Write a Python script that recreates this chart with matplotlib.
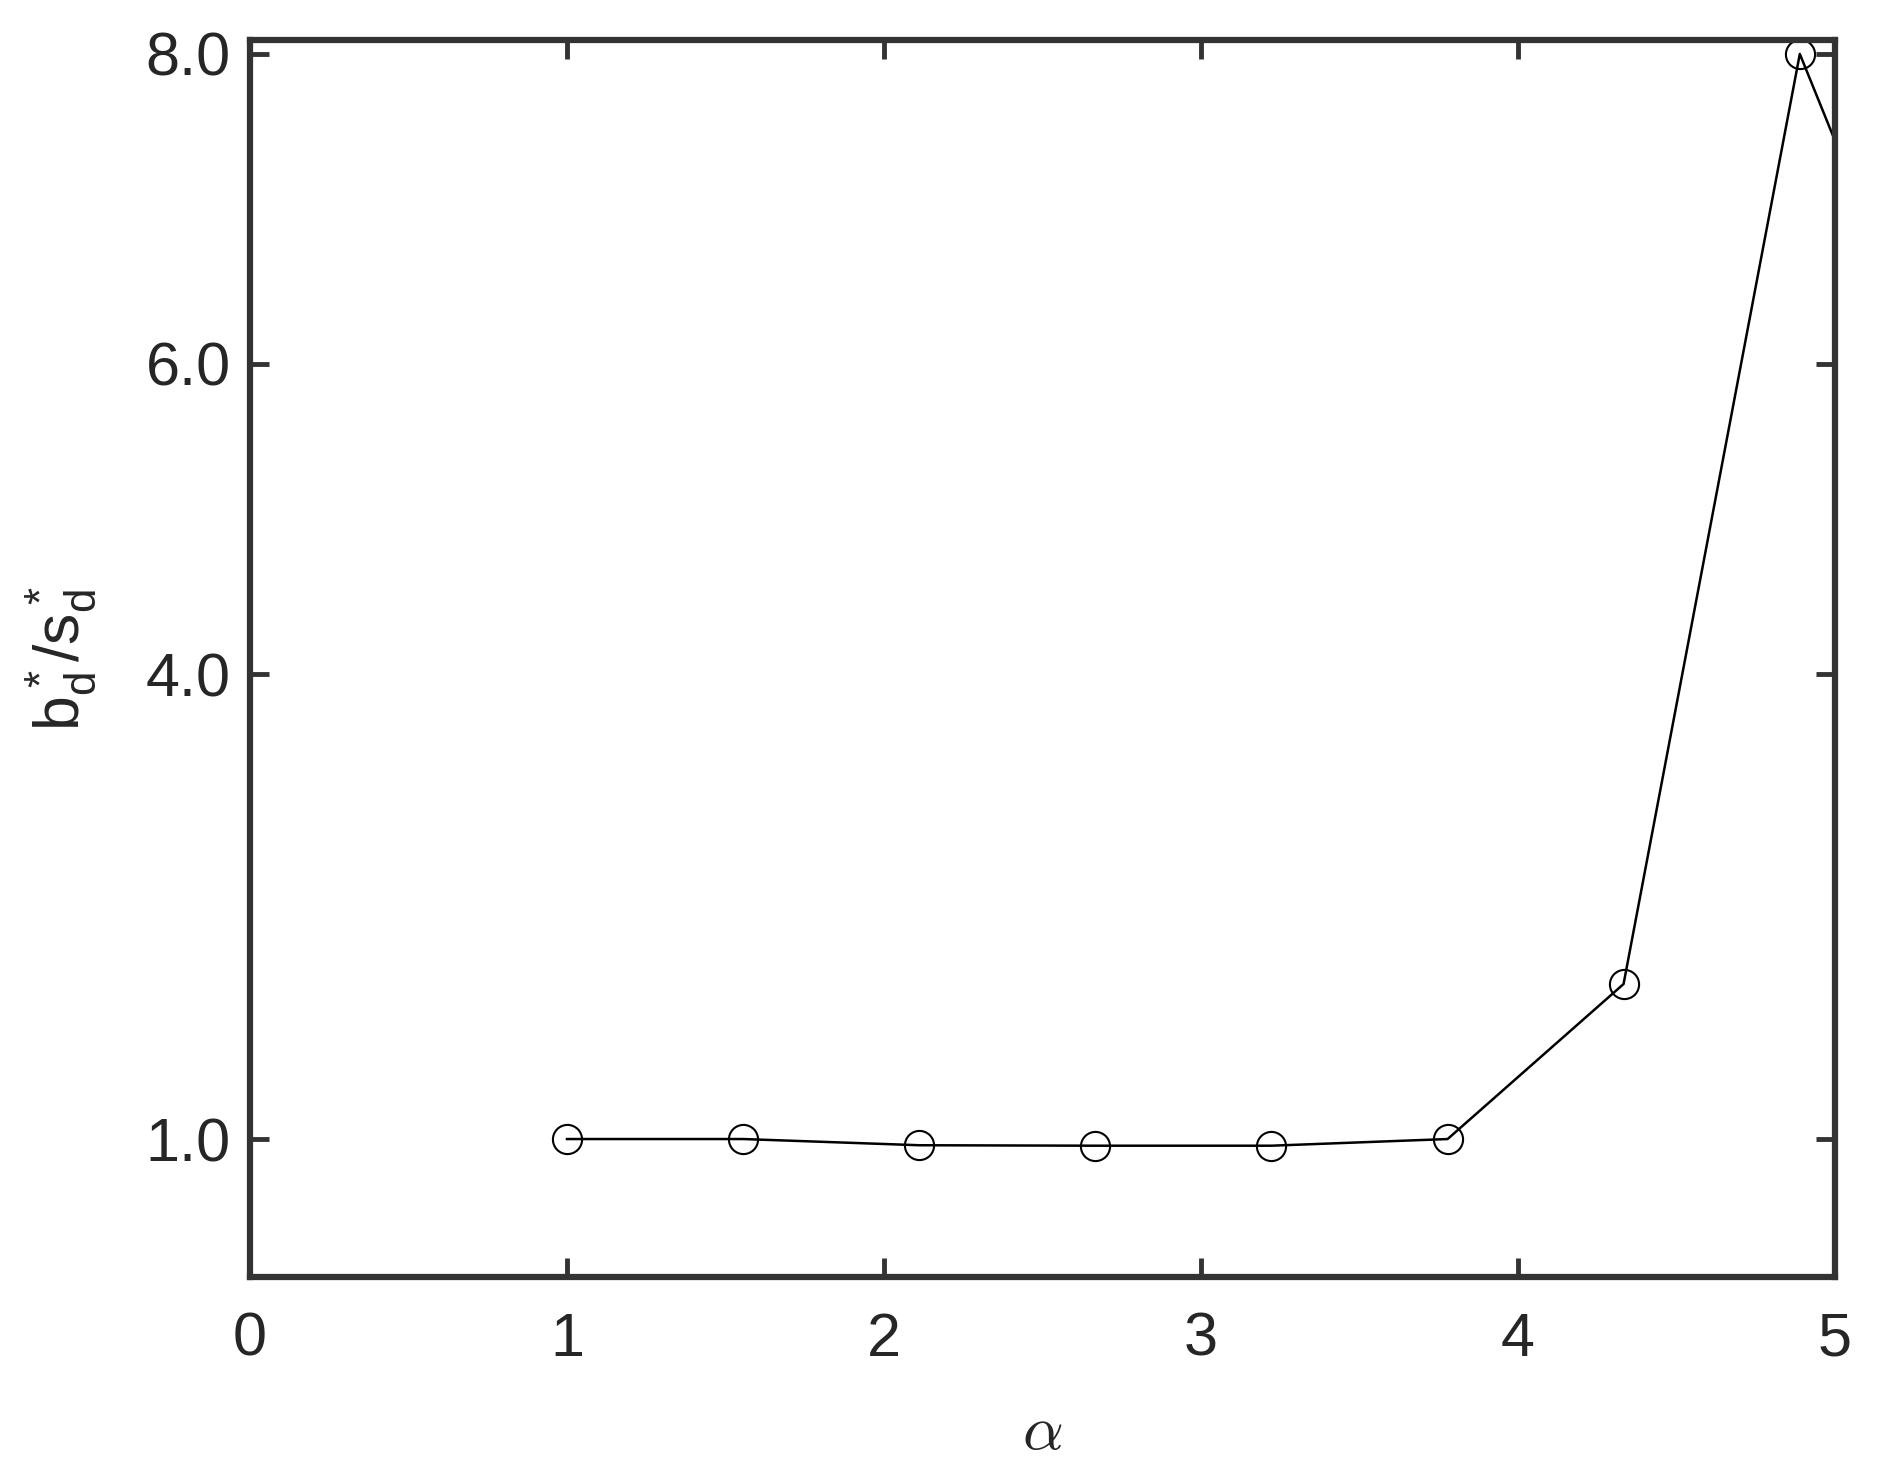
import matplotlib
matplotlib.use("Agg")
import matplotlib.pyplot as plt

# Data
alpha_vals = [1.0, 1.556, 2.111, 2.667, 3.222, 3.778, 4.333, 4.889, 5.444]
ratio_vals = [1.0, 1.0, 0.96, 0.957, 0.957, 1.0, 2.0, 8.0, 5.2]
x_ticks = [0, 1, 2, 3, 4, 5]
y_ticks = [1.0, 4.0, 6.0, 8.0]
y_ticklabels = ["1.0", "4.0", "6.0", "8.0"]

plt.rcParams['font.family'] = ['Liberation Sans', 'DejaVu Sans']
plt.rcParams['mathtext.fontset'] = 'cm'

txt = '#262626'
fig = plt.figure(figsize=(18.95, 14.7), dpi=100)
ax = fig.add_axes([250/1895, 1 - 1277/1470, (1835-250)/1895, (1277-40)/1470])

ax.plot(alpha_vals, ratio_vals, color='black', linewidth=1.8,
        marker='o', markersize=21, markerfacecolor='none',
        markeredgecolor='black', markeredgewidth=1.5)

ax.set_xlim(0, 5)
ax.set_ylim(0.11, 8.09)
ax.set_xticks(x_ticks)
ax.set_xticklabels([str(t) for t in x_ticks])
ax.set_yticks(y_ticks)
ax.set_yticklabels(y_ticklabels)

for s in ax.spines.values():
    s.set_linewidth(4.5)
    s.set_color('#333333')

ax.tick_params(axis='both', direction='in', length=14, width=3.5,
               color='#333333', labelsize=44, labelcolor=txt,
               top=True, right=True)
ax.tick_params(axis='x', pad=25)
ax.tick_params(axis='y', pad=14)

ax.set_ylabel(r'$\mathregular{b_d^*/s_d^*}$', fontsize=45, color=txt)
ax.yaxis.set_label_coords(-0.095, 0.5)
ax.set_xlabel(r'$\alpha$', fontsize=46, color=txt)
ax.xaxis.set_label_coords(0.5, -0.101)

fig.savefig('out.png', dpi=100, facecolor='white')
